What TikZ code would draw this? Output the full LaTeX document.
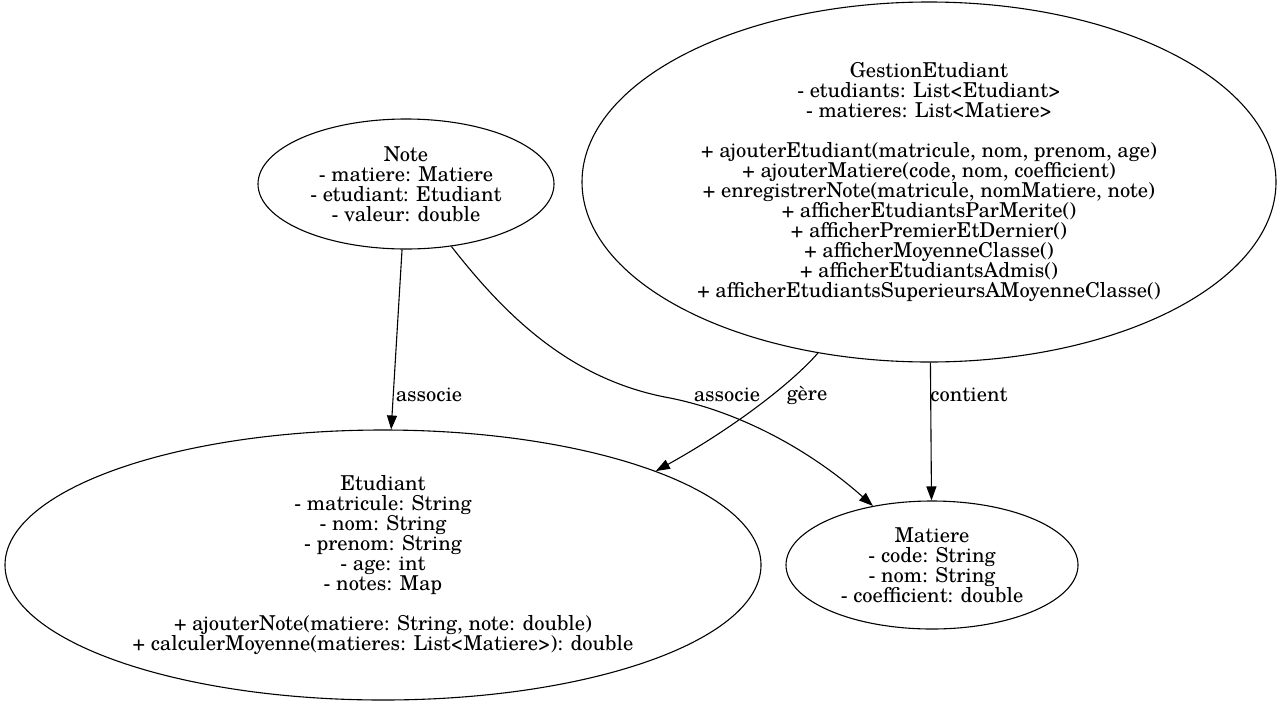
\documentclass[tikz,border=0pt]{standalone}
\usepackage{fontspec}
\setmainfont{TeX Gyre Schola}
\usetikzlibrary{shapes.geometric,arrows.meta}
\begin{document}
\begin{tikzpicture}[x=1pt,y=-1pt,
  cls/.style={draw, ellipse, line width=1.1pt, inner sep=0pt, align=center,
    font=\fontsize{20.5}{20}\selectfont},
  conn/.style={line width=1.1pt, -{Triangle[length=14pt,width=10pt]}},
  lbl/.style={font=\fontsize{20.5}{20}\selectfont, inner sep=0pt}]
\useasboundingbox (0,0) rectangle (1281,707);
\node[cls, minimum width=296pt, minimum height=130pt] (note) at (406,184)
  {Note\\- matiere: Matiere\\- etudiant: Etudiant\\- valeur: double};
\node[cls, minimum width=694pt, minimum height=360pt] (gest) at (929,182)
  {GestionEtudiant\\- etudiants: List<Etudiant>\\- matieres: List<Matiere>\\\mbox{}\\
   + ajouterEtudiant(matricule, nom, prenom, age)\\
   + ajouterMatiere(code, nom, coefficient)\\
   + enregistrerNote(matricule, nomMatiere, note)\\
   + afficherEtudiantsParMerite()\\
   + afficherPremierEtDernier()\\
   + afficherMoyenneClasse()\\
   + afficherEtudiantsAdmis()\\
   + afficherEtudiantsSuperieursAMoyenneClasse()};
\node[cls, minimum width=756pt, minimum height=270pt] (etu) at (383,565)
  {Etudiant\\- matricule: String\\- nom: String\\- prenom: String\\- age: int\\- notes: Map\\\mbox{}\\
   + ajouterNote(matiere: String, note: double)\\
   + calculerMoyenne(matieres: List<Matiere>): double};
\node[cls, minimum width=292pt, minimum height=128pt] (mat) at (932,565)
  {Matiere\\- code: String\\- nom: String\\- coefficient: double};
\draw[conn] (note) -- (etu);
\draw[conn] (note.-54) .. controls (505,315) and (570,380) .. (670,398)
  .. controls (740,412) and (810,450) .. (mat.135);
\draw[conn] (gest.-123) .. controls (790,385) and (730,430) .. (etu.19);
\draw[conn] (gest) -- (mat);
\node[lbl] (l1) at (429,395) {associe};
\node[lbl] (l2) at (727,395) {associe};
\node[lbl] (l3) at (807,395) {gère};
\node[lbl] (l4) at (969,395) {contient};
\end{tikzpicture}
\end{document}
